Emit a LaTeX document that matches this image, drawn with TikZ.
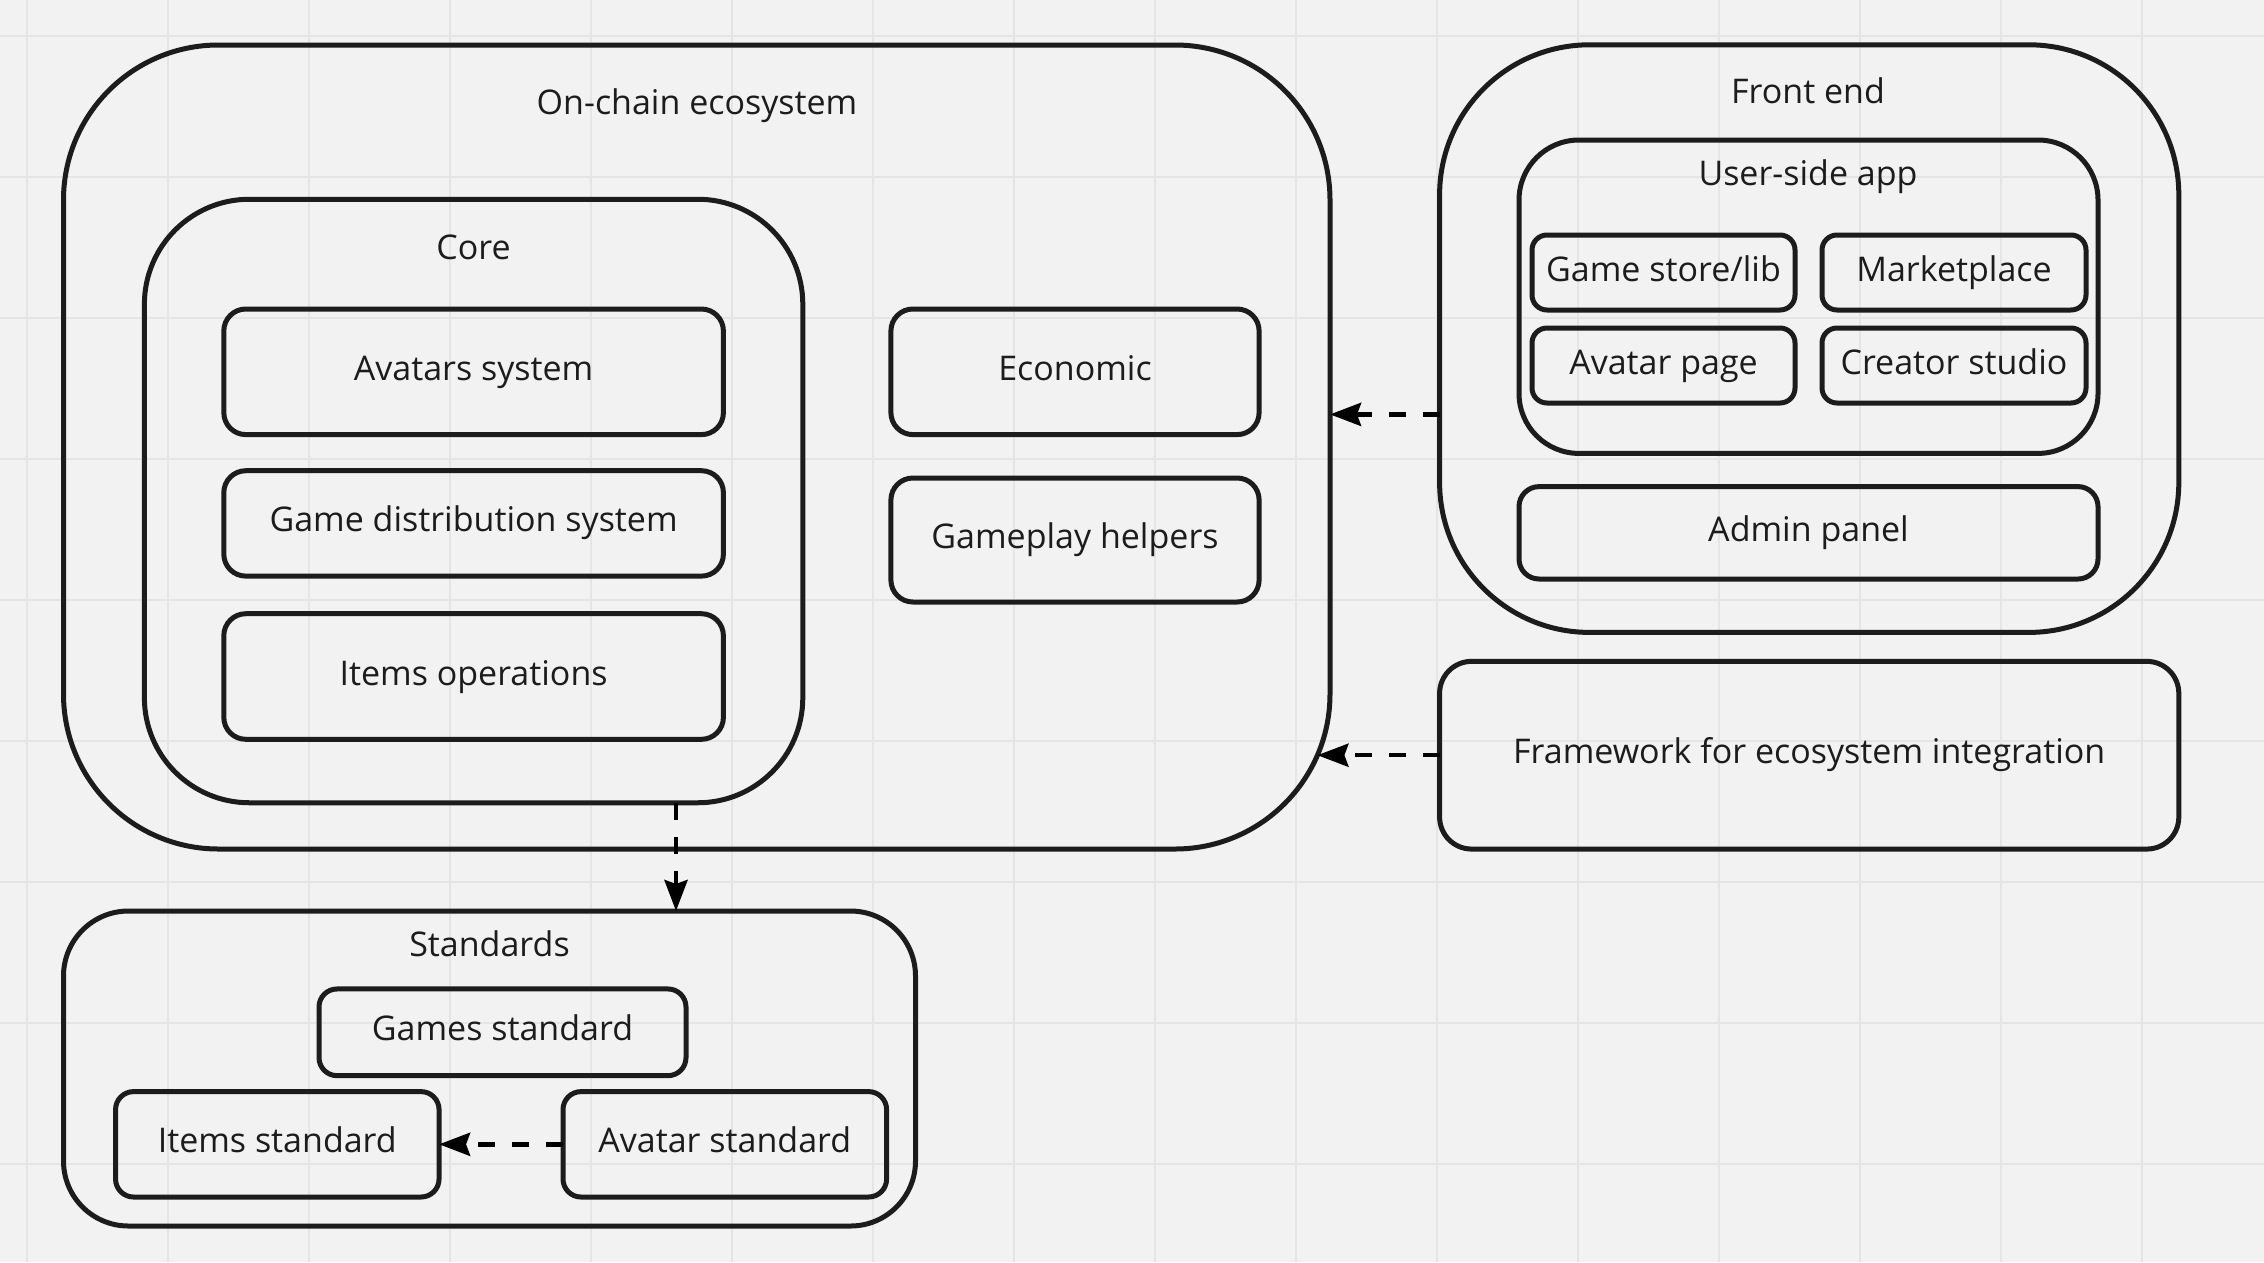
\documentclass[tikz,border=0pt]{standalone}
\usepackage{fontspec}
\setmainfont{Open Sans}
\usetikzlibrary{arrows.meta,calc}
\definecolor{paper}{HTML}{F2F2F2}
\definecolor{gridline}{HTML}{E5E5E5}
\definecolor{ink}{HTML}{1C1C1C}
\begin{document}
\begin{tikzpicture}[x=1pt,y=-1pt,
  label text/.style={text=ink, font=\fontsize{34}{40}\selectfont,
    text height=26pt, text depth=9pt},
  box/.style={draw=ink, line width=5pt, fill=none, inner sep=0pt, outer sep=0pt,
    label text},
  title/.style={label text, inner sep=0pt},
  dep/.style={draw=black, line width=4.5pt, dash pattern=on 17pt off 17pt,
    -{Stealth[length=31pt, width=23pt, inset=4pt]}},
]
% canvas and grid
\fill[paper] (0,0) rectangle (2264,1262);
\useasboundingbox (0,0) rectangle (2264,1262);
\foreach \i in {0,...,15} \draw[gridline, line width=2pt] ({27+141*\i},0) -- ({27+141*\i},1262);
\foreach \j in {0,...,8} \draw[gridline, line width=2pt] (0,{36+141*\j}) -- (2264,{36+141*\j});

% on-chain ecosystem
\node[box, rounded corners=155pt, minimum width=1266.5pt, minimum height=804pt] (onchain) at (696.75,447) {};
\node[title] (onchaintitle) at (697,106) {On-chain ecosystem};
\node[box, rounded corners=105pt, minimum width=658.4pt, minimum height=603.5pt] (core) at (473.6,501) {};
\node[title] (coretitle) at (473.6,250.5) {Core};
\node[box, rounded corners=22pt, minimum width=499.6pt, minimum height=125.6pt] (avatars) at (473.6,371.8) {Avatars system};
\node[box, rounded corners=22pt, minimum width=499.6pt, minimum height=105.4pt] (gamedist) at (473.6,523.4) {Game distribution system};
\node[box, rounded corners=22pt, minimum width=499.6pt, minimum height=125.6pt] (itemsops) at (473.6,676.5) {Items operations};
\node[box, rounded corners=22pt, minimum width=368.2pt, minimum height=125.6pt] (economic) at (1075,371.8) {Economic};
\node[box, rounded corners=22pt, minimum width=368.2pt, minimum height=124pt] (gameplay) at (1075,540) {Gameplay helpers};

% front end
\node[box, rounded corners=150pt, minimum width=739.2pt, minimum height=587.6pt] (frontend) at (1809.2,338.6) {};
\node[title] (fronttitle) at (1808,94.5) {Front end};
\node[box, rounded corners=60pt, minimum width=579pt, minimum height=313.4pt] (userapp) at (1808.5,296.7) {};
\node[title] (usertitle) at (1808,176.7) {User-side app};
\node[box, rounded corners=15pt, minimum width=263pt, minimum height=75pt] (store) at (1663.5,272.5) {Game store/lib};
\node[box, rounded corners=15pt, minimum width=264pt, minimum height=75pt] (market) at (1954,272.5) {Marketplace};
\node[box, rounded corners=15pt, minimum width=263pt, minimum height=75pt] (avpage) at (1663.5,365.5) {Avatar page};
\node[box, rounded corners=15pt, minimum width=264pt, minimum height=75pt] (creator) at (1954,365.5) {Creator studio};
\node[box, rounded corners=20pt, minimum width=579pt, minimum height=92.4pt] (admin) at (1808.5,532.8) {Admin panel};

% integration framework
\node[box, rounded corners=32pt, minimum width=739.2pt, minimum height=187.7pt] (framework) at (1809.2,755.2) {Framework for ecosystem integration};

% standards
\node[box, rounded corners=65pt, minimum width=852pt, minimum height=315pt] (standards) at (489.5,1068.5) {};
\node[title] (stdtitle) at (489.5,947.7) {Standards};
\node[box, rounded corners=18pt, minimum width=367pt, minimum height=86.7pt] (gamesstd) at (502.5,1032.3) {Games standard};
\node[box, rounded corners=18pt, minimum width=323.5pt, minimum height=105.4pt] (itemsstd) at (277.3,1144.3) {Items standard};
\node[box, rounded corners=18pt, minimum width=323.6pt, minimum height=105.4pt] (avatarstd) at (724.8,1144.3) {Avatar standard};

% dependencies
\coordinate (feline) at (1400,414.4);
\coordinate (coreline) at (676,850);
\draw[dep] (frontend.west |- feline) -- (onchain.east |- feline);
\draw[dep] (framework.west) -- ($(onchain.east |- framework.west)+(-12.6,0)$);
\draw[dep] (core.south -| coreline) -- (standards.north -| coreline);
\draw[dep] (avatarstd.west) -- (itemsstd.east);
\end{tikzpicture}
\end{document}
